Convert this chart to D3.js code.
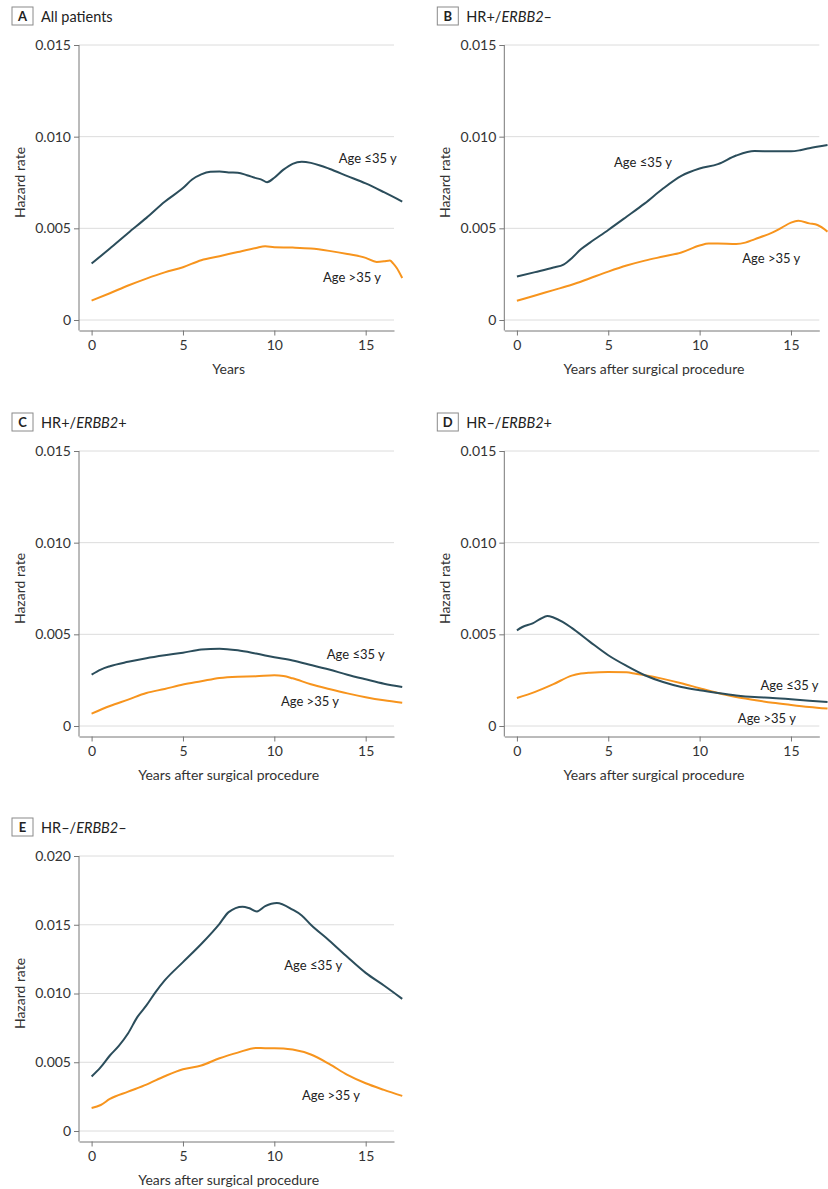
<!DOCTYPE html>
<html>
<head>
<meta charset="utf-8">
<script src="https://cdn.jsdelivr.net/npm/d3@7"></script>
<style>
  body { margin: 0; background: #fff; }
  svg { display: block; font-family: Lato, "Open Sans", sans-serif; }
</style>
</head>
<body>
<svg id="chart" width="828" height="1189"></svg>
<script>
// ---------- DATA (hazard rates, x1e-3) ----------
const xTicks = [0, 5, 10, 15];
const yTicks015 = [0, 0.005, 0.010, 0.015];
const yTicks020 = [0, 0.005, 0.010, 0.015, 0.020];
const seriesNames = ["Age \u226435 y", "Age >35 y"];

// Panel A: All patients
const tAYoung = [0,1,2,3,4,5,5.5,6,6.5,7,7.5,8,8.5,9,9.3,9.6,10,10.5,11,11.5,12,12.5,13,14,15,16,17];
const vAYoung = [3.08,3.9,4.75,5.57,6.45,7.2,7.66,7.94,8.08,8.1,8.05,8.03,7.9,7.74,7.66,7.52,7.76,8.2,8.52,8.63,8.57,8.43,8.25,7.85,7.45,6.97,6.46];
const tAOld = [0,1,2,3,4,5,6,7,8,9,9.5,10,11,12,13,14,15,15.6,16,16.33,16.5,16.7,17];
const vAOld = [1.06,1.46,1.88,2.26,2.6,2.88,3.26,3.48,3.71,3.93,4.02,3.97,3.95,3.9,3.77,3.6,3.39,3.17,3.2,3.25,3.09,2.84,2.29];

// Panel B: HR+/ERBB2-
const tBYoung = [0,1,2,2.55,3,3.5,4,5,6,7,8,9,10,11,12,13,14,15,15.5,16,17];
const vBYoung = [2.37,2.61,2.86,3.02,3.37,3.86,4.22,4.91,5.63,6.36,7.17,7.86,8.26,8.5,8.97,9.22,9.2,9.2,9.26,9.37,9.55];
const tBOld = [0,1,2,3,4,5,6,7,8,9,10,10.5,11,12,12.5,13,14,14.5,15,15.4,16,16.45,17];
const vBOld = [1.05,1.34,1.63,1.92,2.28,2.64,2.97,3.24,3.46,3.68,4.06,4.17,4.17,4.15,4.22,4.4,4.78,5.04,5.31,5.41,5.27,5.18,4.82];

// Panel C: HR+/ERBB2+
const tCYoung = [0,0.5,1,2,3,4,5,6,7,8,9,10,11,12,13,14,15,16,17];
const vCYoung = [2.8,3.08,3.26,3.5,3.7,3.86,4.0,4.17,4.22,4.13,3.95,3.75,3.57,3.33,3.08,2.8,2.55,2.31,2.13];
const tCOld = [0,1,2,3,4,5,6,7,8,9,10,10.5,11,12,13,14,15,16,17];
const vCOld = [0.67,1.09,1.44,1.8,2.02,2.26,2.44,2.62,2.69,2.71,2.77,2.73,2.6,2.28,2.02,1.78,1.57,1.4,1.27];

// Panel D: HR-/ERBB2+
const tDYoung = [0,0.3,0.86,1.3,1.66,2,2.5,3,4,5,6,7,8,9,10,11,12,13,14,15,16,17];
const vDYoung = [5.22,5.4,5.6,5.85,6.0,5.92,5.68,5.35,4.59,3.86,3.28,2.77,2.4,2.13,1.95,1.8,1.67,1.58,1.53,1.46,1.38,1.31];
const tDOld = [0,1,2,3,3.5,4,5,6,6.5,7,8,9,10,11,12,13,14,15,16,17];
const vDOld = [1.53,1.86,2.28,2.75,2.86,2.91,2.95,2.93,2.85,2.77,2.57,2.33,2.06,1.8,1.58,1.42,1.27,1.15,1.04,0.95];

// Panel E: HR-/ERBB2-
const tEYoung = [0,0.5,1,1.5,2,2.5,3,3.5,4,5,6,7,7.5,8.26,8.6,9.05,9.5,10.14,11,11.5,12,13,14,15,16,17];
const vEYoung = [3.96,4.64,5.49,6.21,7.11,8.28,9.13,10.1,10.95,12.28,13.6,15.07,15.92,16.31,16.22,15.97,16.35,16.58,16.1,15.68,15.0,13.86,12.65,11.5,10.58,9.61];
const tEOld = [0,0.5,1,2,3,4,5,6,7,8,9,9.5,10,10.5,11,12,13,14,15,16,17];
const vEOld = [1.67,1.89,2.33,2.86,3.37,3.98,4.49,4.76,5.29,5.7,6.04,6.02,6.02,6.0,5.92,5.56,4.88,4.08,3.47,2.99,2.55];

// Label anchors in data coordinates [year, hazard x1e-3]
const labelYoungAt = { A:[15.11,8.59], B:[6.9,8.32], C:[14.46,3.68], D:[14.92,1.99], E:[12.13,11.68] };
const labelOldAt   = { A:[14.25,2.09], B:[13.92,3.11], C:[11.95,1.11], D:[13.68,0.16], E:[13.1,2.26] };

const panels = [
  { id:"A", title:[{t:"All patients"}], xLabel:"Years", yMax:0.015, yTicks:yTicks015, col:0, row:0,
    young:[tAYoung,vAYoung], old:[tAOld,vAOld] },
  { id:"B", title:[{t:"HR+/"},{t:"ERBB2",i:true},{t:"\u2013"}], xLabel:"Years after surgical procedure", yMax:0.015, yTicks:yTicks015, col:1, row:0,
    young:[tBYoung,vBYoung], old:[tBOld,vBOld] },
  { id:"C", title:[{t:"HR+/"},{t:"ERBB2",i:true},{t:"+"}], xLabel:"Years after surgical procedure", yMax:0.015, yTicks:yTicks015, col:0, row:1,
    young:[tCYoung,vCYoung], old:[tCOld,vCOld] },
  { id:"D", title:[{t:"HR\u2013/"},{t:"ERBB2",i:true},{t:"+"}], xLabel:"Years after surgical procedure", yMax:0.015, yTicks:yTicks015, col:1, row:1,
    young:[tDYoung,vDYoung], old:[tDOld,vDOld] },
  { id:"E", title:[{t:"HR\u2013/"},{t:"ERBB2",i:true},{t:"\u2013"}], xLabel:"Years after surgical procedure", yMax:0.020, yTicks:yTicks020, col:0, row:2,
    young:[tEYoung,vEYoung], old:[tEOld,vEOld] }
];

// ---------- LAYOUT ----------
const colX = [79, 504.3];
const rowY = [45, 451, 856];
const plotW = 315, zeroH = 275, axisExt = 10.5;
const colYoung = "#2b4d5b", colOld = "#f7941d";
const textCol = "#333";

const svg = d3.select("#chart");
const fmt = d => d === 0 ? "0" : d3.format(".3f")(d);

panels.forEach(p => {
  const g = svg.append("g").attr("transform", `translate(${colX[p.col]},${rowY[p.row]})`);
  const x = d3.scaleLinear().domain([-0.69, 16.55]).range([0, plotW]);
  const y = d3.scaleLinear().domain([0, p.yMax]).range([zeroH, 0]);

  // title box
  const tg = g.append("g").attr("transform", `translate(-67,-38)`);
  tg.append("rect").attr("x",0).attr("y",0).attr("width",21).attr("height",18)
    .attr("fill","#fff").attr("stroke","#8a8a8a").attr("stroke-width",1);
  tg.append("text").attr("x",10.5).attr("y",14).attr("text-anchor","middle")
    .attr("font-size",13).attr("font-weight","bold").attr("fill","#222").text(p.id);
  const tt = tg.append("text").attr("x",29).attr("y",14.5).attr("font-size",14.5).attr("fill","#222");
  p.title.forEach(s => { const ts = tt.append("tspan").text(s.t); if (s.i) ts.attr("font-style","italic"); });

  // grid
  g.append("g").selectAll("line").data(p.yTicks).join("line")
    .attr("x1",0).attr("x2",plotW).attr("y1",d=>y(d)).attr("y2",d=>y(d))
    .attr("stroke","#dcdcdc").attr("stroke-width",1);

  // y axis
  const ya = g.append("g").call(d3.axisLeft(y).tickValues(p.yTicks).tickFormat(fmt).tickSize(5).tickPadding(3));
  ya.select(".domain").remove();
  ya.selectAll(".tick line").attr("stroke","#777");
  ya.selectAll(".tick text").attr("font-size",14).attr("fill",textCol).attr("font-family","Lato, sans-serif");
  g.append("line").attr("x1",0).attr("x2",0).attr("y1",0).attr("y2",zeroH+axisExt).attr("stroke","#777");

  // x axis
  const xa = g.append("g").attr("transform",`translate(0,${zeroH+axisExt})`)
    .call(d3.axisBottom(x).tickValues(xTicks).tickSize(5).tickSizeOuter(0).tickPadding(5));
  xa.select(".domain").attr("stroke","#777");
  xa.selectAll(".tick line").attr("stroke","#777");
  xa.selectAll(".tick text").attr("font-size",14).attr("fill",textCol).attr("font-family","Lato, sans-serif");

  // axis titles
  g.append("text").attr("transform",`translate(-59,${zeroH/2}) rotate(-90)`).attr("text-anchor","middle")
    .attr("dy","0.35em").attr("font-size",14).attr("fill",textCol).text("Hazard rate");
  g.append("text").attr("x",x(7.5)).attr("y",zeroH+54).attr("text-anchor","middle")
    .attr("font-size",14).attr("fill",textCol).text(p.xLabel);

  // lines
  const line = d3.line().x(d=>x(d[0])).y(d=>y(d[1]/1000)).curve(d3.curveMonotoneX);
  const mk = s => s[0].map((t,i)=>[t, s[1][i]]);
  g.append("path").datum(mk(p.old)).attr("d",line).attr("fill","none").attr("stroke",colOld).attr("stroke-width",2);
  g.append("path").datum(mk(p.young)).attr("d",line).attr("fill","none").attr("stroke",colYoung).attr("stroke-width",2);

  // series labels
  const ly = labelYoungAt[p.id], lo = labelOldAt[p.id];
  g.append("text").attr("x",x(ly[0])).attr("y",y(ly[1]/1000)).attr("text-anchor","middle")
    .attr("font-size",13).attr("fill","#222").text(seriesNames[0]);
  g.append("text").attr("x",x(lo[0])).attr("y",y(lo[1]/1000)).attr("text-anchor","middle")
    .attr("font-size",13).attr("fill","#222").text(seriesNames[1]);
});
</script>
</body>
</html>
